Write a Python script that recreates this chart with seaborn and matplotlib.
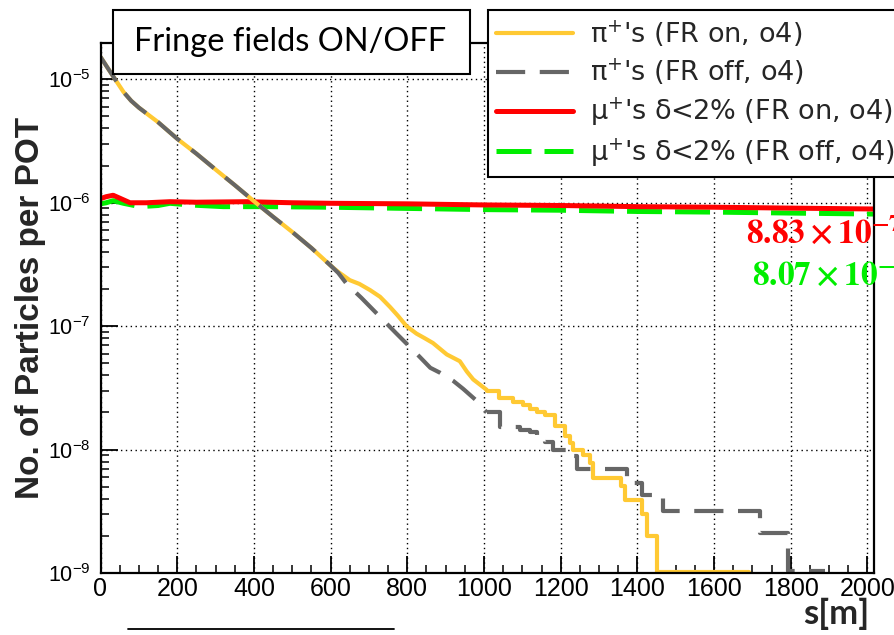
import matplotlib
matplotlib.use("Agg")
import matplotlib.pyplot as plt
import matplotlib.ticker as mticker
from matplotlib import font_manager
from matplotlib.lines import Line2D
from matplotlib.patches import Rectangle
import seaborn as sns
import numpy as np

# ---------------- data ----------------
pion_s_common = [0, 20, 40, 60, 80, 100, 150, 200, 250, 300, 350, 400, 450, 500, 550, 600]
pion_common = [1.52e-5, 1.22e-5, 9.8e-6, 7.9e-6, 6.7e-6, 5.9e-6, 4.5e-6, 3.3e-6, 2.5e-6,
               1.86e-6, 1.39e-6, 1.03e-6, 7.7e-7, 5.8e-7, 4.3e-7, 3.1e-7]

pion_on_s = [620, 650, 675, 703, 729, 755, 775, 798, 824, 845, 867, 903, 937, 955, 972, 1007]
pion_on = [2.75e-7, 2.36e-7, 2.2e-7, 1.96e-7, 1.73e-7, 1.43e-7, 1.22e-7, 1.0e-7, 8.7e-8,
           8.0e-8, 7.3e-8, 5.9e-8, 5.2e-8, 4.3e-8, 3.7e-8, 3.05e-8]
pion_on_tail_s = [1007, 1040, 1075, 1102, 1120, 1137, 1160, 1185, 1211, 1224, 1232,
                  1258, 1276, 1284, 1358, 1367, 1411, 1424, 1450, 1690]
pion_on_tail = [3.0e-8, 2.6e-8, 2.45e-8, 2.29e-8, 2.15e-8, 2.0e-8, 1.9e-8, 1.55e-8,
                1.28e-8, 1.13e-8, 1.0e-8, 9.1e-9, 7.8e-9, 5.9e-9, 5.1e-9, 3.93e-9,
                2.98e-9, 2.0e-9, 1.02e-9, 1.02e-9]

pion_off_s = [620, 642, 680, 720, 772, 824, 860, 885, 920, 946, 980, 1007]
pion_off = [2.7e-7, 2.2e-7, 1.7e-7, 1.27e-7, 8.7e-8, 6.0e-8, 4.6e-8, 4.2e-8,
            3.6e-8, 3.1e-8, 2.5e-8, 2.0e-8]
pion_off_tail_s = [1007, 1042, 1094, 1120, 1137, 1159, 1181, 1216, 1242, 1372,
                   1411, 1467, 1720, 1794, 1889]
pion_off_tail = [2.0e-8, 1.52e-8, 1.45e-8, 1.38e-8, 1.3e-8, 1.15e-8, 1.0e-8, 8.8e-9,
                 7.0e-9, 5.4e-9, 4.3e-9, 3.2e-9, 2.1e-9, 1.04e-9, 1.04e-9]

muon_on_s = [0, 15, 33, 50, 77, 120, 181, 250, 381, 500, 600, 800, 1000, 1200,
             1400, 1600, 1800, 2017]
muon_on = [1.08e-6, 1.12e-6, 1.15e-6, 1.09e-6, 1.0e-6, 1.0e-6, 1.02e-6, 1.01e-6,
           1.02e-6, 1.0e-6, 0.99e-6, 0.98e-6, 0.96e-6, 0.95e-6, 0.93e-6, 0.92e-6,
           0.905e-6, 0.89e-6]
muon_off_s = [0, 15, 33, 60, 103, 150, 181, 233, 320, 442, 600, 800, 1000, 1200,
              1400, 1600, 1800, 2017]
muon_off = [0.98e-6, 1.0e-6, 1.04e-6, 0.99e-6, 0.93e-6, 0.95e-6, 0.99e-6, 0.96e-6,
            0.93e-6, 0.93e-6, 0.92e-6, 0.90e-6, 0.88e-6, 0.87e-6, 0.85e-6, 0.84e-6,
            0.825e-6, 0.81e-6]

labels = [r"π$^{+}$'s (FR on, o4)", r"π$^{+}$'s (FR off, o4)",
          r"μ$^{+}$'s δ<2% (FR on, o4)", r"μ$^{+}$'s δ<2% (FR off, o4)"]
colors = ["#ffc933", "#666666", "#ff0000", "#00ee00"]
x_ticks = [0, 200, 400, 600, 800, 1000, 1200, 1400, 1600, 1800, 2000]
title_box = "Fringe fields ON/OFF"
ylabel = "No. of Particles per POT"
xlabel = "s[m]"
ann_on = r"$\mathbf{8.83\times10^{-7}}$"
ann_off = r"$\mathbf{8.07\times10^{-7}}$"

# ---------------- style ----------------
sns.set_theme(style="white")
names = {f.name for f in font_manager.fontManager.ttflist}
narrow = "Liberation Sans Narrow" if "Liberation Sans Narrow" in names else "Liberation Sans"
plt.rcParams["font.family"] = [narrow, "DejaVu Sans"]
plt.rcParams["mathtext.fontset"] = "custom"
plt.rcParams["mathtext.rm"] = narrow
plt.rcParams["mathtext.default"] = "regular"

fig = plt.figure(figsize=(8.94, 6.35), dpi=100)
ax = fig.add_axes([100.5 / 894, 1 - 573 / 635, (874 - 100.5) / 894, (573 - 43) / 635])
ax.set_facecolor("white")

lw_pi = 3.0
sns.lineplot(x=muon_off_s, y=muon_off, ax=ax, color=colors[3], linewidth=3.6,
             linestyle=(0, (7, 2.6)), estimator=None, sort=False, label=labels[3])
sns.lineplot(x=muon_on_s, y=muon_on, ax=ax, color=colors[2], linewidth=3.6,
             estimator=None, sort=False, label=labels[2])
sns.lineplot(x=pion_s_common + pion_on_s, y=pion_common + pion_on, ax=ax, color=colors[0],
             linewidth=lw_pi, estimator=None, sort=False, label=labels[0])
sns.lineplot(x=pion_on_tail_s, y=pion_on_tail, ax=ax, color=colors[0], linewidth=lw_pi,
             estimator=None, sort=False, drawstyle="steps-post")
sns.lineplot(x=pion_s_common + pion_off_s, y=pion_common + pion_off, ax=ax, color=colors[1],
             linewidth=lw_pi, linestyle=(0, (7, 3.5)), estimator=None, sort=False,
             label=labels[1])
sns.lineplot(x=pion_off_tail_s, y=pion_off_tail, ax=ax, color=colors[1], linewidth=lw_pi,
             linestyle=(0, (7, 3.5)), estimator=None, sort=False, drawstyle="steps-post")

ax.set_yscale("log")
ax.set_xlim(0, 2017)
ax.set_ylim(1e-9, 1.97e-5)
ax.set_xticks(x_ticks)
ax.set_xticklabels([str(t) for t in x_ticks])
ax.xaxis.set_minor_locator(mticker.MultipleLocator(50))
ax.yaxis.set_major_locator(mticker.LogLocator(base=10, numticks=20))
ax.yaxis.set_minor_locator(mticker.LogLocator(base=10, subs=np.arange(2, 10), numticks=20))
ax.yaxis.set_minor_formatter(mticker.NullFormatter())
ax.tick_params(axis="both", which="major", direction="in", length=12, width=1.3,
               color="black", labelcolor="black", bottom=True, left=True)
ax.tick_params(axis="x", which="major", labelsize=18, pad=3)
ax.tick_params(axis="y", which="major", labelsize=15.5, pad=7)
ax.tick_params(axis="both", which="minor", direction="in", length=6, width=1.1,
               color="black", bottom=True, left=True)
ax.grid(True, which="major", color="black", linestyle=(0, (1, 2.5)), linewidth=1.0)
ax.set_axisbelow(True)
for sp in ax.spines.values():
    sp.set_color("black")
    sp.set_linewidth(1.6)
ax.set_xlabel("")
ax.set_ylabel("")

# legend
handles, labs = ax.get_legend_handles_labels()
order = [labs.index(l) for l in labels]
leg = ax.legend([handles[i] for i in order], [labs[i] for i in order],
                loc="upper left", bbox_to_anchor=(488 / 894, 1 - 10 / 635),
                bbox_transform=fig.transFigure, borderaxespad=0, frameon=True,
                fancybox=False, edgecolor="black", framealpha=1, handlelength=2.85,
                handletextpad=0.62, borderpad=0.3, labelspacing=0.3,
                prop={"family": ["DejaVu Sans"], "size": 19.5})
leg.get_frame().set_linewidth(1.5)
leg.set_zorder(10)

# title box
fig.add_artist(Rectangle((113 / 894, 1 - 74 / 635), (470 - 113) / 894, 64 / 635,
                         transform=fig.transFigure, facecolor="white", edgecolor="black",
                         linewidth=1.5, zorder=9))
fig.text(290 / 894, 1 - 42 / 635, title_box, ha="center", va="center",
         family=["Lato", "DejaVu Sans"], fontsize=23.5, color="black", zorder=11)

# axis labels
fig.text(31 / 894, 1 - 308 / 635, ylabel, rotation=90, ha="center", va="center",
         family=["Liberation Sans", "DejaVu Sans"], fontweight="bold", fontsize=24)
fig.text(869 / 894, 1 - 614 / 635, xlabel, ha="right", va="center",
         family=["Lato", "DejaVu Sans"], fontweight="bold", fontsize=25)

# annotations
fig.text(746 / 894, 1 - 244 / 635, ann_on, ha="left", va="baseline", color="#ff0000",
         fontsize=24, math_fontfamily="stix")
fig.text(752 / 894, 1 - 286 / 635, ann_off, ha="left", va="baseline", color="#00ee00",
         fontsize=24, math_fontfamily="stix")

# stray rule under the chart
fig.add_artist(Line2D([128 / 894, 394 / 894], [1 - 629 / 635] * 2,
                      transform=fig.transFigure, color="black", linewidth=1.3))

fig.savefig("out.png", dpi=100)
